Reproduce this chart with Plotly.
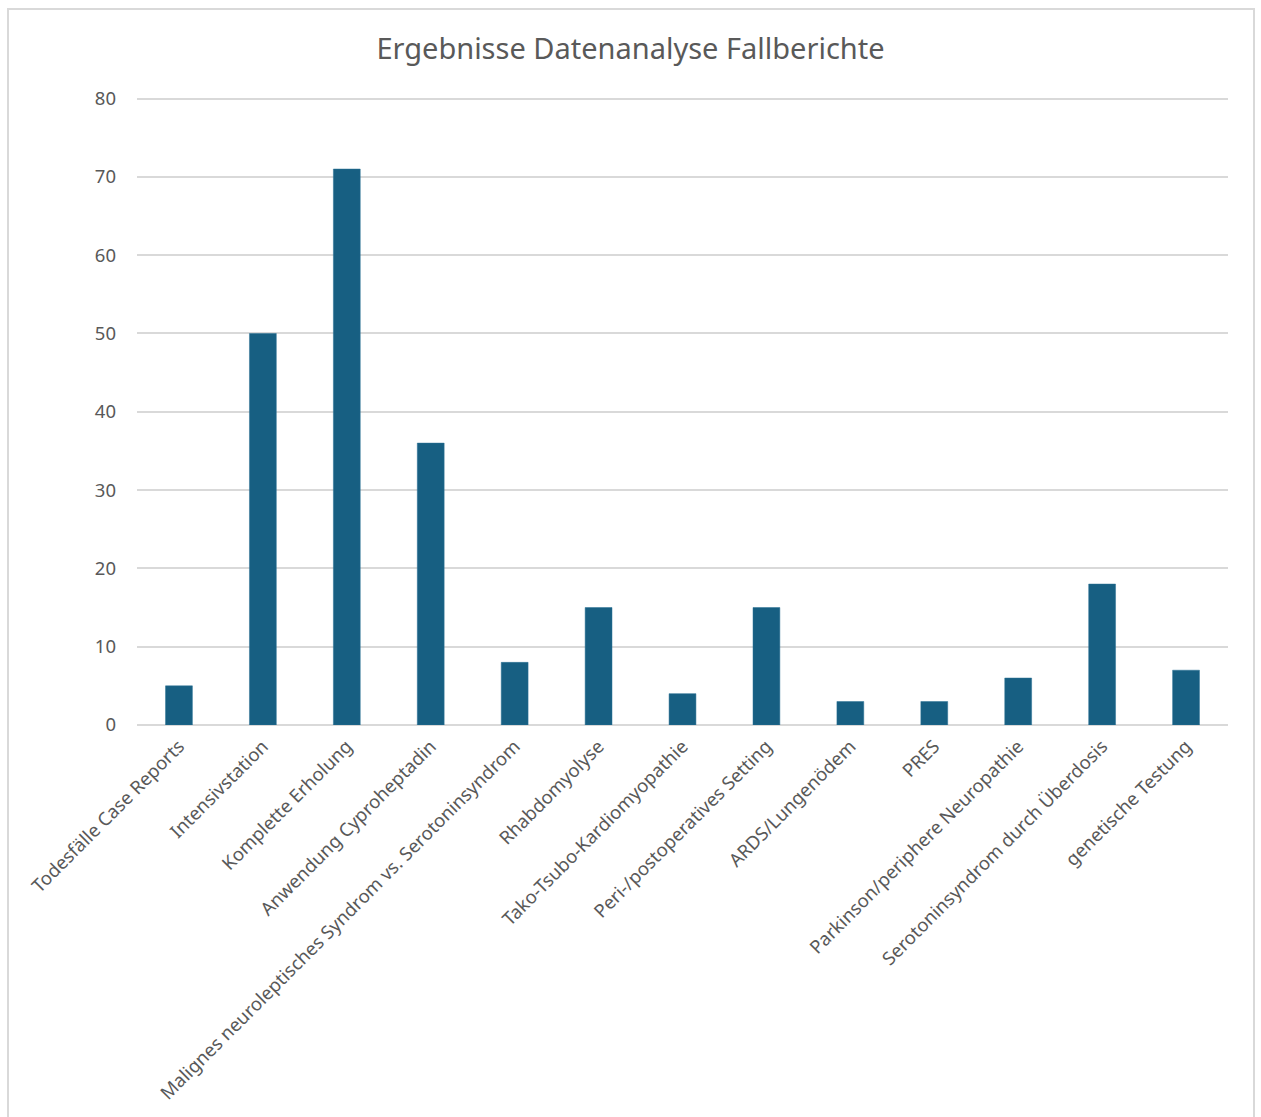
import plotly.graph_objects as go

categories = [
    "Todesfälle Case Reports",
    "Intensivstation",
    "Komplette Erholung",
    "Anwendung Cyproheptadin",
    "Malignes neuroleptisches Syndrom vs. Serotoninsyndrom",
    "Rhabdomyolyse",
    "Tako-Tsubo-Kardiomyopathie",
    "Peri-/postoperatives Setting",
    "ARDS/Lungenödem",
    "PRES",
    "Parkinson/periphere Neuropathie",
    "Serotoninsyndrom durch Überdosis",
    "genetische Testung",
]
values = [5, 50, 71, 36, 8, 15, 4, 15, 3, 3, 6, 18, 7]
y_ticks = [0, 10, 20, 30, 40, 50, 60, 70, 80]

W, H = 1261, 1117
L, R_edge, T, B_edge = 137, 1228, 97, 725
pw = R_edge - L
ph = B_edge - T

fig = go.Figure(go.Bar(
    x=categories, y=values,
    marker=dict(color="#175F82", line=dict(color="#2a7094", width=0.5)),
    hoverinfo="x+y",
))

fig.update_layout(
    width=W, height=H,
    margin=dict(l=L, r=W - R_edge, t=T, b=H - B_edge, pad=0),
    paper_bgcolor="white", plot_bgcolor="white",
    bargap=0.68,
    showlegend=False,
    title=dict(text="Ergebnisse Datenanalyse Fallberichte", x=0.5, xanchor="center",
               y=1 - 49 / H, yanchor="middle",
               font=dict(family="Noto Sans", size=29, color="#595959")),
    font=dict(family="Noto Sans", color="#595959"),
    xaxis=dict(tickangle=-45, tickfont=dict(size=18.5, color="#595959"),
               showgrid=False, showline=False, ticks="", ticklabelstandoff=6),
    yaxis=dict(range=[0, 80.2], tickvals=y_ticks, showgrid=True, gridcolor="#d9d9d9",
               gridwidth=1.5, zeroline=True, zerolinecolor="#d9d9d9", zerolinewidth=1.5,
               tickfont=dict(size=18.5, color="#595959"), ticks="", ticklabelstandoff=20),
    shapes=[dict(type="rect", xref="paper", yref="paper",
                 x0=(8 - L) / pw, x1=(1254 - L) / pw,
                 y0=(B_edge - 1140) / ph, y1=(B_edge - 9) / ph,
                 line=dict(color="#d9d9d9", width=2), fillcolor="rgba(0,0,0,0)", layer="below")],
)

fig.write_html("out.html")
